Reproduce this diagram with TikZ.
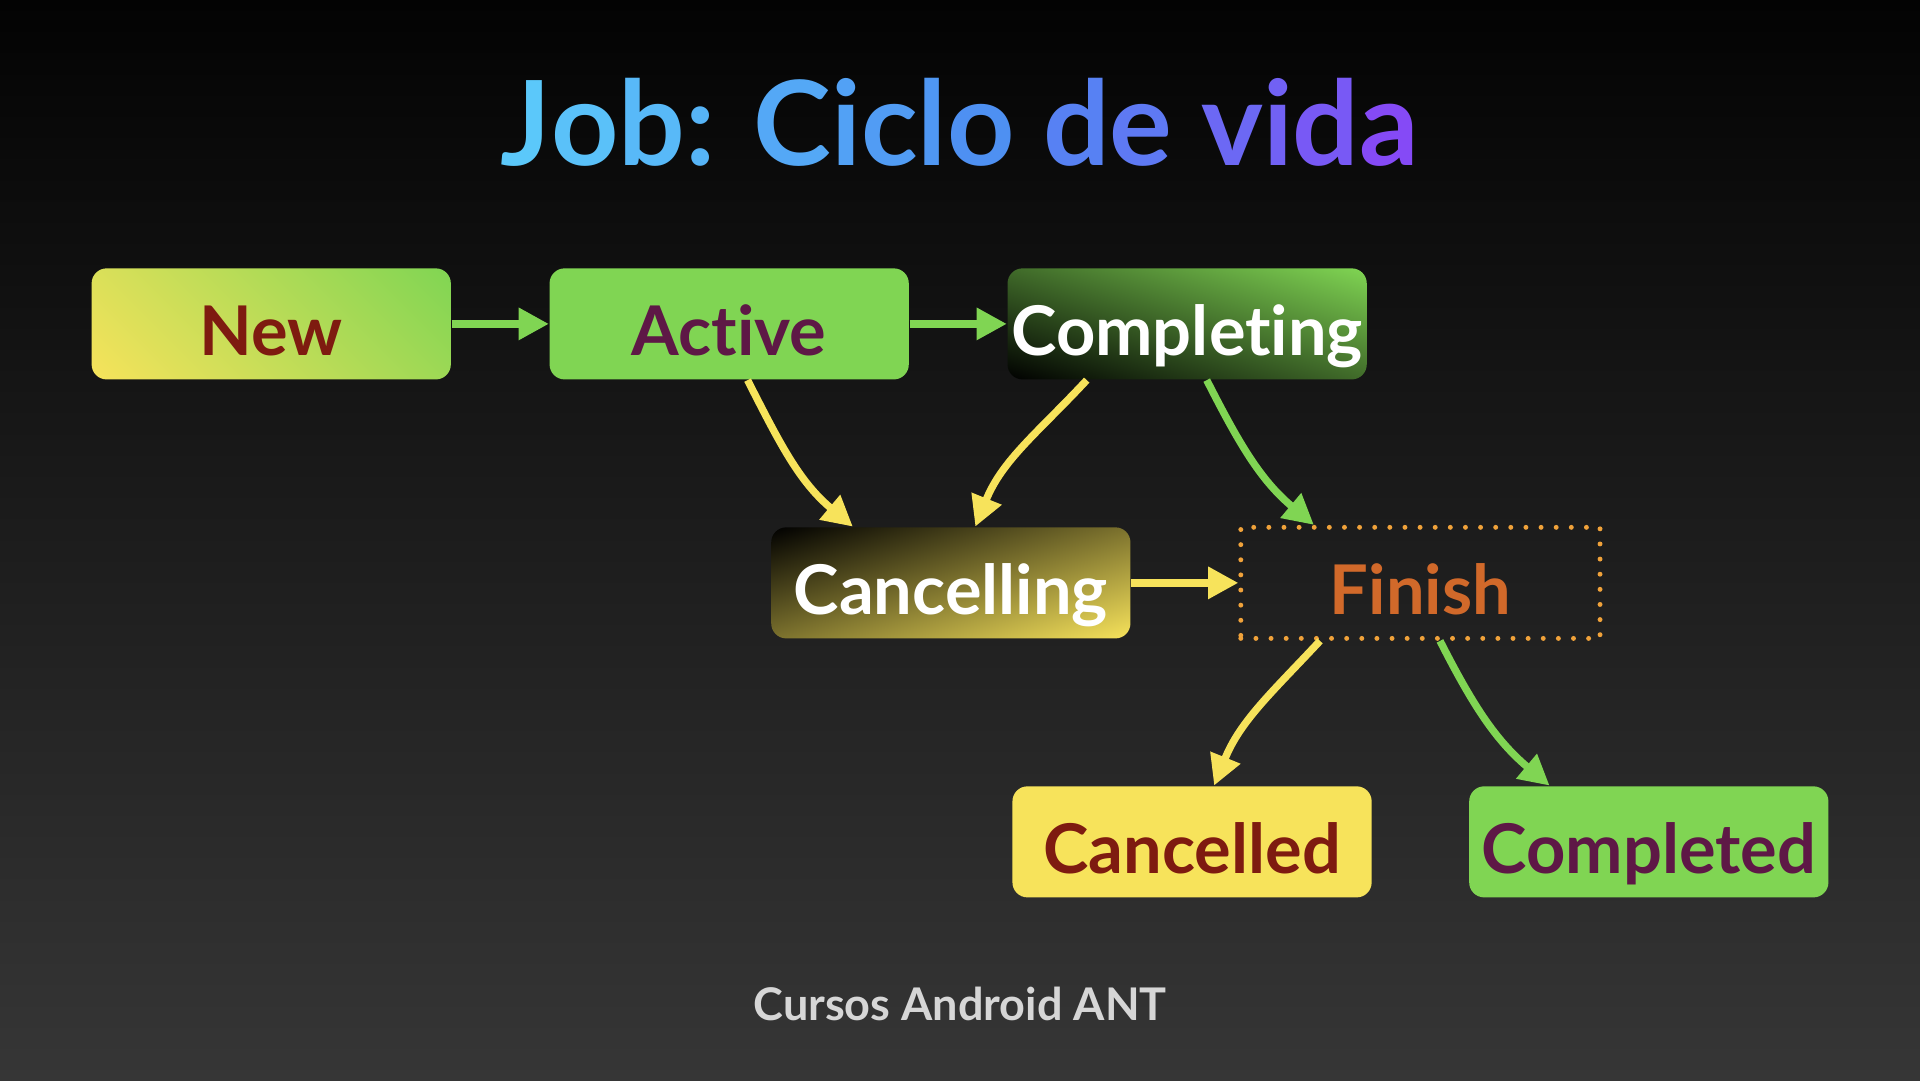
\documentclass[tikz,border=0pt]{standalone}
\usepackage{fontspec}
\setmainfont{Lato}[Ligatures={NoCommon}]
\usetikzlibrary{arrows.meta,calc}
\definecolor{bgtop}{HTML}{030303}
\definecolor{bgbot}{HTML}{363636}
\definecolor{cgreen}{HTML}{80D553}
\definecolor{cyellow}{HTML}{F7E35B}
\definecolor{cred}{HTML}{7E1B10}
\definecolor{cpurple}{HTML}{5E1846}
\definecolor{corange}{HTML}{D1692A}
\definecolor{cdot}{HTML}{F0A23A}
\definecolor{cfoot}{HTML}{D6D6D6}
\definecolor{tA}{HTML}{5CCBFA}
\definecolor{tB}{HTML}{4D8DF2}
\definecolor{tC}{HTML}{8C42F6}
\newcommand{\tlA}[2]{{\color{tB!#1!tA}#2}}
\newcommand{\tlB}[2]{{\color{tC!#1!tB}#2}}
\tikzset{
  box/.style={rectangle, rounded corners=0.15cm, minimum width=3.59cm,
    minimum height=1.11cm, inner sep=0pt,
    font=\fontsize{19.5}{19.5}\selectfont\bfseries,
    text height=18.5pt, text depth=0.6pt},
  diag/.style n args={4}{path picture={
    \shade[top color=#1, bottom color=#2,
      transform canvas={rotate around={#3:(path picture bounding box.center)}}]
      ($(path picture bounding box.center)+(-170,-#4)$) rectangle
      ($(path picture bounding box.center)+(170,#4)$);}},
  arr/.style={line width=2.1pt, -{Triangle[length=8.6pt, width=8.7pt]}},
  garr/.style={arr, draw=cgreen},
  yarr/.style={arr, draw=cyellow},
}
\begin{document}
\begin{tikzpicture}[x=0.012245cm, y=0.012245cm]
\shade[top color=bgtop, bottom color=bgbot] (0,0) rectangle (1568,-882);
\useasboundingbox (0,0) rectangle (1568,-882);

\node[anchor=base, font=\fontsize{33.4}{33.4}\selectfont\bfseries] (title) at (784,-135)
 {\tlA{4}{J}\tlA{16}{o}\tlA{29}{b}\tlA{38}{:} \tlA{56}{C}\tlA{67}{i}\tlA{76}{c}\tlA{84}{l}\tlA{96}{o} \tlB{16}{d}\tlB{27}{e} \tlB{49}{v}\tlB{58}{i}\tlB{69}{d}\tlB{89}{a}};

\node[box, diag={cgreen}{cyellow}{-45}{136}, text=cred] (new) at (221.5,-264.5) {New};
\node[box, fill=cgreen, text=cpurple] (active) at (595.5,-264.5) {Active};
\node[box, diag={cgreen}{black}{-17.3}{87}, text=white] (completing) at (969.5,-264.5) {Completing};
\node[box, diag={black}{cyellow}{17.3}{87}, text=white] (cancelling) at (776.5,-476) {Cancelling};
\node[box, draw=cdot, line width=1.4pt, dash pattern=on 0pt off 4.3pt, line cap=round, rounded corners=0pt, text=corange] (finish) at (1160,-476) {Finish};
\node[box, fill=cyellow, text=cred] (cancelled) at (973.5,-687.5) {Cancelled};
\node[box, fill=cgreen, text=cpurple] (completed) at (1346.5,-687.5) {Completed};

\node[anchor=base, font=\fontsize{12.8}{12.8}\selectfont\bfseries, text=cfoot] (footer) at (784,-833) {Cursos Android ANT};

\draw[garr] (new.east) -- (active.west);
\draw[garr] (active.east) -- (completing.west);
\draw[yarr] (cancelling.east) -- (finish.west);
\draw[yarr] ($(active.south)+(15,0)$) to[out=-63, in=140] ($(cancelling.north)+(-80,0)$);
\draw[yarr] ($(completing.south)+(-82,0)$) to[out=-133, in=68] ($(cancelling.north)+(20,0)$);
\draw[garr] ($(completing.south)+(16,0)$) to[out=-63, in=140] ($(finish.north)+(-87,0)$);
\draw[yarr] ($(finish.south)+(-82,0)$) to[out=-133, in=68] ($(cancelled.north)+(18,0)$);
\draw[garr] ($(finish.south)+(16,0)$) to[out=-63, in=140] ($(completed.north)+(-81,0)$);
\end{tikzpicture}
\end{document}
